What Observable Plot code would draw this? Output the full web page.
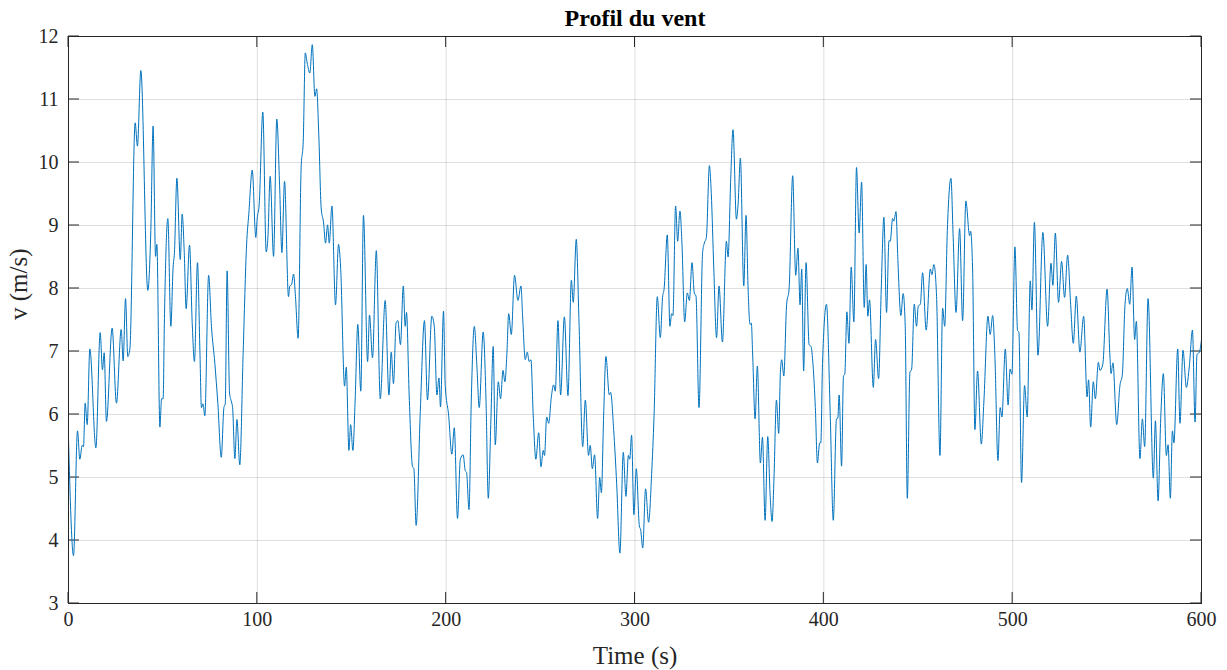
<!DOCTYPE html>
<html>
<head>
<meta charset="utf-8">
<script src="https://cdn.jsdelivr.net/npm/d3@7"></script>
<script src="https://cdn.jsdelivr.net/npm/@observablehq/plot@0.6"></script>
<style>
  html, body { margin: 0; padding: 0; background: #ffffff; }
  #chart svg { display: block; }
  #chart svg text { font-family: 'Liberation Serif', 'Times New Roman', Times, serif; }
</style>
</head>
<body>
<div id="chart"></div>
<script>
// Wind speed profile over 10 minutes
const chartTitle = "Profil du vent";
const xLabel = "Time (s)";
const yLabel = "v (m/s)";
const xTicks = [0, 100, 200, 300, 400, 500, 600];
const yTicks = [3, 4, 5, 6, 7, 8, 9, 10, 11, 12];

const times = [
  0, 2.65, 4.77, 6.0, 7.24, 7.94, 8.83, 9.9, 11.3, 14.5, 16.77, 18.0, 18.9, 20.1, 23.1, 25.4, 27.9, 28.95, 30.2, 31.4,
  32.5, 35.3, 36.5, 38.3, 42.0, 43.6, 44.8, 46.1, 46.8, 48.4, 49.3, 50.1,
  50.8, 52.6, 54.2, 55.4, 56.1, 57.4, 59.2, 60.2, 61.3, 62.3, 64.1, 65.5, 66.7, 68.3, 69.6, 70.4, 71.2, 72.2,
  74.2, 75.7, 77.5, 79.1, 80.9, 82.3, 83.0, 84.0, 85.3, 86.3, 86.9, 88.1, 89.2, 90.7, 92.5, 94.3, 95.5, 97.3, 99.2,
  99.9, 101.0, 102.9, 104.7, 105.6, 106.8, 108.6, 110.3, 111.8, 113.0, 114.4, 116.5, 117.2, 118.1, 119.2, 120.2,
  121.6, 123.2, 124.3, 125.4, 126.4, 127.8, 129.1, 130.5, 131.4, 132.6, 133.8, 135.1, 136.1, 137.2, 138.1, 139.5,
  141.4, 143.0, 144.1, 146.2, 147.1, 148.5,
  149.4, 150.6, 151.8, 153.2, 154.8, 156.2, 158.4, 159.4, 161.0, 163.0, 165.1, 167.7, 169.7, 170.9, 172.1, 173.5,
  174.4, 175.8, 177.3, 178.3, 179.0, 180.4, 182.2, 182.9, 184.1, 186.3, 188.5, 190.1, 192.4, 193.7, 195.1, 196.2,
  197.0, 198.6,
  199.5, 201.3, 203.0, 204.3, 206.0, 207.5, 209.0, 210.1, 210.8, 212.1, 213.3, 214.9, 216.3, 217.5, 219.6, 221.1,
  222.3, 223.7, 224.9, 226.0, 227.6, 228.8, 230.1, 231.1, 232.2, 233.1, 234.5, 236.2, 238.0, 239.6, 240.5, 241.9,
  242.9, 244.0, 244.9, 246.1, 247.5,
  249.0, 250.2, 251.4, 252.1, 253.2, 254.3, 255.7, 256.9, 257.8, 259.2, 260.6, 262.6, 264.5, 266.3, 267.3, 268.9,
  270.3, 272.3, 273.7, 275.4, 276.3, 277.4, 278.6, 280.2, 281.3, 282.2, 283.4, 284.6, 286.4, 287.1, 288.7, 290.3,
  292.0, 293.8, 295.2, 296.5, 297.2, 298.2, 299.4,
  300.7, 302.3, 303.0, 304.1, 305.6, 307.2, 308.8, 310.1, 311.8, 313.4, 314.6, 315.4, 317.1, 318.5, 319.4, 320.1,
  321.5, 322.6, 323.8, 324.9, 326.3, 327.7, 328.8, 330.2, 331.4, 332.3, 333.9, 335.8, 336.7, 337.8, 339.4, 340.4,
  341.7, 343.2, 344.5, 346.3,
  348.4, 349.3, 350.7, 351.9, 353.7, 354.6, 355.8, 357.6, 358.8, 359.9, 360.9, 361.6, 362.3, 363.6, 364.8, 366.4,
  367.5, 368.9, 370.3, 371.5, 372.6, 373.6, 374.9, 376.1, 377.0, 377.7, 378.8, 380.3, 381.6, 383.5, 385.1, 386.3,
  387.4, 388.3, 389.3, 390.6, 392.2, 393.2, 394.3, 395.5, 396.6,
  397.8, 398.4, 399.3, 401.4, 403.4, 405.0, 406.7, 407.4, 408.1, 409.4, 410.4, 411.1, 412.2, 413.3, 414.5, 415.9,
  417.3, 418.7, 420.0, 421.4, 422.4, 423.3, 424.2, 426.2, 427.4, 429.0, 430.4, 431.8, 433.2, 434.5, 435.2, 436.4,
  437.1, 438.2, 439.2, 440.8, 442.0, 443.1, 444.2, 445.6, 446.5, 447.9,
  449.1, 450.0, 451.1, 452.3, 454.2, 456.4, 457.2, 458.3, 459.7, 461.5, 462.9, 464.0, 465.4, 467.3, 468.5, 470.0,
  471.9, 473.5, 475.2, 477.2, 477.7, 478.8, 480.0, 481.4, 483.4, 484.8, 486.9, 488.1, 489.4, 490.6, 492.2, 493.4,
  494.3, 496.1, 497.6,
  498.6, 499.6, 501.2, 502.6, 503.3, 504.7, 506.3, 507.7, 509.3, 510.2, 511.5, 513.4, 516.0, 518.5, 520.3, 521.3,
  522.6, 524.3, 525.9, 527.5, 529.1, 530.7, 532.1, 533.7, 535.6, 537.6, 539.4, 540.2, 541.3, 542.7, 543.8, 545.4,
  546.2, 547.7,
  550.0, 551.5, 552.1, 553.1, 555.1, 556.8, 558.1, 559.5, 560.7, 562.0, 563.2, 564.6, 565.5, 567.4, 568.7, 569.9,
  571.7, 574.5, 575.6, 577.0, 578.4, 579.8, 581.4, 582.3, 583.5, 584.6, 585.4, 587.4, 588.6, 590.2, 592.0, 593.6,
  595.2, 596.6, 597.6, 598.9, 600
];

const speeds = [
  5.61, 3.76, 5.74, 5.29, 5.51, 5.49, 6.18, 5.84, 7.04, 5.47, 7.30, 6.71, 6.98, 5.89, 7.37, 6.18, 7.35, 6.85, 7.84, 6.92,
  7.04, 10.63, 10.26, 11.46, 7.97, 8.92, 10.58, 8.51, 8.70, 5.80, 6.25, 6.25,
  7.52, 9.11, 7.40, 8.34, 8.57, 9.75, 8.46, 9.18, 8.57, 7.68, 8.69, 7.46, 6.84, 8.41, 6.99, 6.11, 6.17, 5.98,
  8.21, 7.40, 6.81, 6.17, 5.32, 6.11, 6.17, 8.28, 6.34, 6.20, 6.11, 5.30, 5.92, 5.20, 6.99, 8.69, 9.19, 9.88, 8.81,
  9.10, 9.34, 10.80, 8.58, 8.81, 9.78, 8.51, 10.69, 9.63, 8.57, 9.70, 7.87, 8.04, 8.06, 8.23, 7.87,
  7.21, 9.92, 10.33, 11.74, 11.58, 11.42, 11.87, 11.05, 11.17, 10.39, 9.28, 9.04, 8.72, 9.01, 8.72, 9.31,
  7.74, 8.70, 8.34, 6.45, 6.75, 5.43,
  5.84, 5.43, 6.23, 7.43, 6.37, 9.16, 6.84, 7.58, 6.90, 8.60, 6.25, 7.81, 6.31, 6.99, 6.49, 7.46,
  7.49, 7.11, 8.04, 7.40, 7.62, 6.31, 5.17, 5.14, 4.24, 6.05, 7.49, 6.23, 7.56, 7.40, 6.31, 6.58,
  6.12, 7.64,
  6.46, 5.99, 5.37, 5.79, 4.35, 5.29, 5.36, 5.11, 5.08, 4.49, 6.23, 7.40, 6.75, 6.11, 7.31, 6.23,
  4.67, 5.93, 7.08, 5.52, 6.52, 6.25, 6.70, 6.52, 6.99, 7.60, 7.27, 8.21, 7.81, 8.04, 7.55, 6.87,
  6.99, 6.84, 6.87, 5.99, 5.29,
  5.71, 5.17, 5.43, 5.35, 5.96, 5.86, 6.28, 6.47, 6.37, 7.49, 6.31, 7.55, 6.30, 8.13, 7.78, 8.78,
  7.52, 5.49, 6.23, 5.35, 5.51, 5.14, 5.36, 4.35, 5.00, 4.76, 5.99, 6.92, 6.31, 6.35, 5.76, 4.90,
  3.80, 5.40, 4.70, 5.35, 5.29, 5.67, 4.41,
  5.14, 4.23, 4.17, 3.88, 4.82, 4.29, 5.05, 5.99, 7.87, 7.22, 7.86, 7.99, 8.85, 7.40, 7.60, 7.57,
  9.31, 8.75, 9.23, 8.69, 7.47, 7.93, 7.81, 8.41, 7.93, 7.88, 6.11, 8.57, 8.72, 8.81, 9.95, 9.51,
  8.34, 7.22, 8.04, 7.15,
  8.75, 8.50, 9.75, 10.52, 9.10, 9.34, 10.07, 8.04, 9.16, 7.99, 7.43, 7.45, 6.96, 5.93, 6.77, 5.23,
  5.64, 4.32, 5.65, 4.76, 4.30, 4.99, 6.23, 5.70, 6.67, 6.87, 6.61, 7.75, 7.99, 9.79, 8.21, 8.64,
  7.74, 8.31, 6.69, 8.41, 7.11, 7.08, 6.78, 6.11, 5.23,
  5.55, 5.55, 6.81, 7.75, 5.99, 4.32, 5.93, 5.94, 6.31, 5.18, 6.61, 6.64, 7.63, 7.13, 8.34, 7.47,
  9.92, 8.88, 9.69, 7.70, 8.38, 7.56, 7.82, 6.43, 7.19, 6.57, 7.99, 9.13, 7.62, 8.76, 8.75, 9.11,
  9.07, 9.22, 8.46, 7.57, 7.92, 7.40, 4.67, 6.67, 6.72, 7.75,
  7.40, 7.72, 7.75, 8.25, 7.34, 8.31, 8.22, 8.38, 7.87, 5.35, 7.69, 7.40, 8.92, 9.75, 8.81, 7.62,
  8.95, 7.49, 9.39, 8.84, 8.91, 8.28, 5.76, 6.69, 5.53, 6.23, 7.56, 7.27, 7.57, 6.92, 5.27, 6.11,
  5.96, 7.04, 6.15,
  6.72, 6.64, 8.66, 7.33, 7.31, 4.92, 6.46, 5.96, 8.12, 7.66, 9.05, 6.94, 8.89, 7.40, 8.40, 8.05,
  8.88, 7.78, 8.43, 7.86, 8.53, 7.75, 7.13, 7.88, 6.99, 7.56, 6.28, 6.55, 5.80, 6.52, 6.25, 6.83,
  6.70, 6.79,
  7.99, 6.93, 6.65, 6.82, 5.84, 6.46, 6.64, 7.75, 8.00, 7.75, 8.34, 7.19, 7.48, 5.30, 5.93, 5.49,
  7.84, 4.99, 5.90, 4.63, 5.93, 6.65, 5.35, 5.52, 4.67, 5.74, 5.55, 7.04, 5.86, 7.02, 6.43, 6.78,
  7.34, 5.88, 6.95, 6.99, 7.19
];

const wind = times.map((t, i) => ({t, v: speeds[i]}));

const axisColor = "#262626";
const serif = "'Liberation Serif', 'Times New Roman', Times, serif";

// short inward tick marks drawn along all four sides of the frame
const inwardTicks = (axis) => (index, scales, values, dims) => {
  const g = d3.create("svg:g").attr("stroke", axisColor).attr("stroke-width", 1);
  const left = dims.marginLeft, right = dims.width - dims.marginRight;
  const top = dims.marginTop, bottom = dims.height - dims.marginBottom;
  for (const i of index) {
    if (axis === "y") {
      const y = values.y[i];
      g.append("line").attr("x1", left).attr("x2", left + 11).attr("y1", y).attr("y2", y);
      g.append("line").attr("x1", right).attr("x2", right - 11).attr("y1", y).attr("y2", y);
    } else {
      const x = values.x[i];
      g.append("line").attr("x1", x).attr("x2", x).attr("y1", bottom).attr("y2", bottom - 11);
      g.append("line").attr("x1", x).attr("x2", x).attr("y1", top).attr("y2", top + 11);
    }
  }
  return g.node();
};

const chart = Plot.plot({
  width: 1227,
  height: 670,
  marginLeft: 68,
  marginRight: 26,
  marginTop: 36,
  marginBottom: 67,
  style: {fontFamily: serif, fontSize: "20px", color: axisColor, background: "#ffffff"},
  x: {domain: [0, 600], label: null},
  y: {domain: [3, 12], label: null},
  marks: [
    Plot.gridX(xTicks, {stroke: axisColor, strokeOpacity: 0.15, strokeWidth: 1}),
    Plot.gridY(yTicks, {stroke: axisColor, strokeOpacity: 0.15, strokeWidth: 1}),
    Plot.axisX(xTicks, {tickSize: 0, tickPadding: 8, fontSize: 20, fill: axisColor, tickFormat: d3.format("d")}),
    Plot.axisY(yTicks, {tickSize: 0, tickPadding: 10, fontSize: 20, fill: axisColor, tickFormat: d3.format("d")}),
    Plot.tickY(yTicks, {y: d => d, render: inwardTicks("y")}),
    Plot.tickX(xTicks, {x: d => d, render: inwardTicks("x")}),
    Plot.line(wind, {x: "t", y: "v", stroke: "#0072BD", strokeWidth: 1, curve: "monotone-x"}),
    Plot.frame({stroke: axisColor, strokeWidth: 1}),
    Plot.text([chartTitle], {frameAnchor: "top", lineAnchor: "middle", dy: -18, fontSize: 24, fontWeight: "bold", fill: "#000000"}),
    Plot.text([xLabel], {frameAnchor: "bottom", lineAnchor: "middle", dy: 52, fontSize: 25, fill: axisColor}),
    Plot.text([yLabel], {frameAnchor: "left", lineAnchor: "middle", dx: -50, rotate: -90, fontSize: 25, fill: axisColor})
  ]
});

document.getElementById("chart").appendChild(chart);
</script>
</body>
</html>
